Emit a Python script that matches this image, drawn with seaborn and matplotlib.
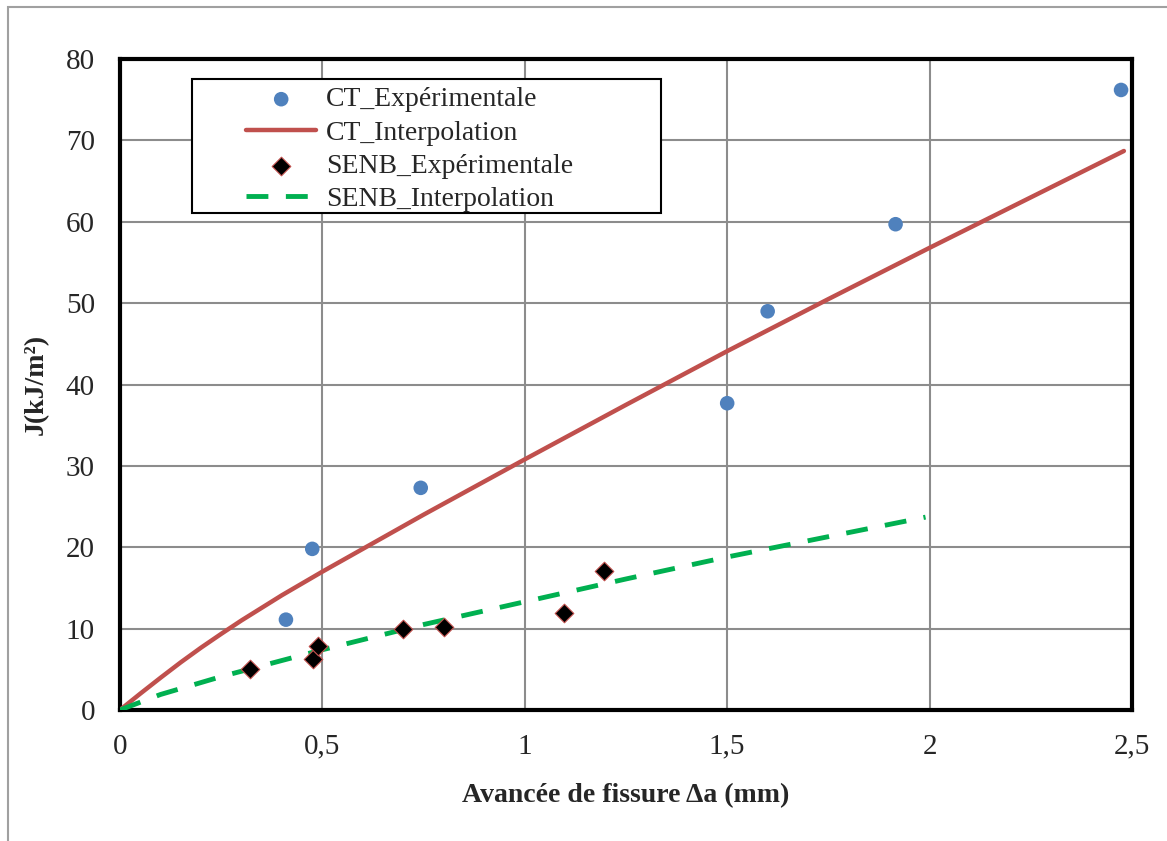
import numpy as np
import pandas as pd
import matplotlib
matplotlib.use('Agg')
import matplotlib.pyplot as plt
import seaborn as sns
from matplotlib.patches import Rectangle
from matplotlib.ticker import FuncFormatter

# donnees
ct_da = [0.41, 0.475, 0.743, 1.50, 1.60, 1.916, 2.473]
ct_j = [11.1, 19.8, 27.3, 37.7, 49.0, 59.7, 76.2]

ct_fit_da = [0, 0.05, 0.1, 0.15, 0.2, 0.25, 0.3, 0.4, 0.5, 0.75, 1.0, 1.25, 1.5, 1.75, 2.0, 2.25, 2.48]
ct_fit_j = [0, 2.0, 3.95, 5.85, 7.65, 9.35, 11.0, 14.1, 17.0, 24.0, 30.8, 37.5, 44.1, 50.5, 56.8, 63.0, 68.7]

senb_da = [0.32, 0.478, 0.488, 0.70, 0.80, 1.097, 1.196]
senb_j = [5.0, 6.3, 7.9, 9.9, 10.2, 11.9, 17.1]

senb_fit_da = [0, 0.1, 0.25, 0.5, 0.75, 1.0, 1.25, 1.5, 1.75, 1.99]
senb_fit_j = [0, 1.9, 4.1, 7.4, 10.5, 13.3, 16.1, 18.8, 21.3, 23.7]

ct = pd.DataFrame({'da': ct_da, 'J': ct_j})
ct_fit = pd.DataFrame({'da': ct_fit_da, 'J': ct_fit_j})
senb = pd.DataFrame({'da': senb_da, 'J': senb_j})
senb_fit = pd.DataFrame({'da': senb_fit_da, 'J': senb_fit_j})

sns.set_style('white')
plt.rcParams['font.family'] = ['Liberation Serif', 'DejaVu Serif']

fig = plt.figure(figsize=(11.67, 8.41), dpi=100)
ax = fig.add_axes([0.1028, 0.1558, 0.8672, 0.774])

# cadre exterieur gris (gauche + haut)
fig.patches.append(Rectangle((8 / 1167, -0.1), 1.2, 1 - 7 / 841 + 0.1,
                             transform=fig.transFigure, fill=False,
                             edgecolor='#a0a0a0', lw=1.5, zorder=0))

sns.scatterplot(data=ct, x='da', y='J', ax=ax, color='#4F81BD', s=110,
                edgecolor='none', label='CT_Expérimentale', zorder=4)
sns.lineplot(data=ct_fit, x='da', y='J', ax=ax, color='#C0504D', lw=3.2,
             label='CT_Interpolation', zorder=3)
sns.scatterplot(data=senb, x='da', y='J', ax=ax, color='black', marker='D',
                s=90, edgecolor='#C0504D', linewidth=0.8,
                label='SENB_Expérimentale', zorder=4)
sns.lineplot(data=senb_fit, x='da', y='J', ax=ax, color='#00B050', lw=3.5,
             label='SENB_Interpolation', zorder=3)
ax.lines[-1].set_linestyle((0, (4.5, 3.6)))

ax.set_xlim(0, 2.5)
ax.set_ylim(0, 80)
ax.set_xticks(np.arange(0, 2.51, 0.5))
ax.set_yticks(np.arange(0, 81, 10))
ax.xaxis.set_major_formatter(FuncFormatter(lambda v, p: ('%g' % v).replace('.', ',')))
ax.grid(True, color='#8c8c8c', lw=1.5)
ax.set_axisbelow(True)
for s in ax.spines.values():
    s.set_visible(True)
    s.set_color('black')
    s.set_linewidth(3)

ax.tick_params(axis='y', direction='out', length=8, width=3, labelsize=21, pad=10)
ax.tick_params(axis='x', direction='in', length=8, width=3, labelsize=21, pad=17)

ax.set_xlabel('Avancée de fissure Δa (mm)', fontsize=20, fontweight='bold', labelpad=17)
ax.set_ylabel('J(kJ/m²)', fontsize=20, fontweight='bold', labelpad=12)

# legende sans cadre + cadre dessine a part (marges gauche/droite larges)
leg = ax.legend(loc='upper left', bbox_to_anchor=(0.125, 0.957), fontsize=20,
                frameon=False, borderpad=0, labelspacing=0.28, handlelength=2.5,
                handletextpad=0.35, borderaxespad=0)
ax.add_patch(Rectangle((0.0713, 0.7634), 0.4634, 0.2058, transform=ax.transAxes,
                       facecolor='white', edgecolor='black', lw=1.5, zorder=5))
leg.set_zorder(6)

fig.savefig('out.png', dpi=100)
